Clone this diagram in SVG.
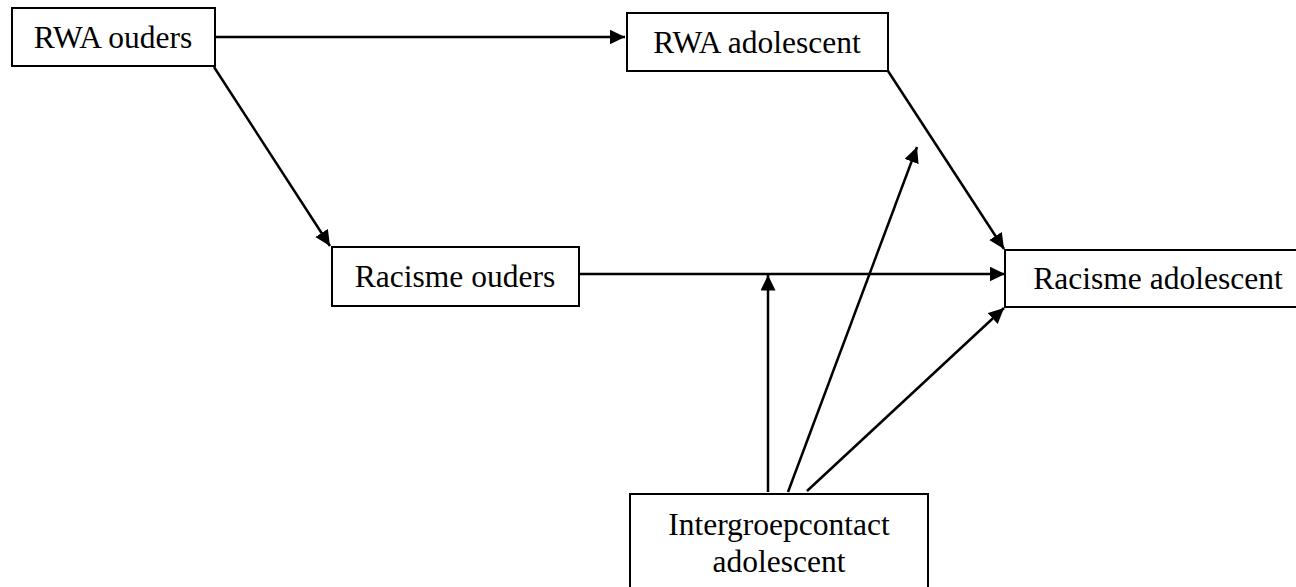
<svg xmlns="http://www.w3.org/2000/svg" width="1296" height="587" viewBox="0 0 1296 587">
<style>
.box{fill:#fff;stroke:#000;stroke-width:2}
.lbl{font-family:"Liberation Serif","Times New Roman",serif;font-size:31.5px;fill:#000;text-anchor:middle}
.con{fill:none;stroke:#000;stroke-width:2.5}
</style>
<defs>
<marker id="ah" markerUnits="userSpaceOnUse" markerWidth="17" markerHeight="16" refX="15.5" refY="7.5" orient="auto">
<path d="M0,0 L15.5,7.5 L0,15 Z" fill="#000"/>
</marker>
</defs>
<rect x="0" y="0" width="1296" height="587" fill="#fff"/>
<g id="connectors">
<line class="con" x1="214" y1="37" x2="625" y2="37" marker-end="url(#ah)"/>
<line class="con" x1="214" y1="67" x2="330" y2="246" marker-end="url(#ah)"/>
<line class="con" x1="579" y1="274" x2="1005" y2="274" marker-end="url(#ah)"/>
<line class="con" x1="888" y1="71" x2="1004" y2="249" marker-end="url(#ah)"/>
<line class="con" x1="768" y1="492" x2="768" y2="275" marker-end="url(#ah)"/>
<line class="con" x1="788" y1="492" x2="917" y2="147" marker-end="url(#ah)"/>
<line class="con" x1="807" y1="491" x2="1004" y2="308" marker-end="url(#ah)"/>
</g>
<g id="rwa-ouders">
<rect class="box" x="12" y="8" width="203" height="58"/>
<text class="lbl" x="113" y="48">RWA ouders</text>
</g>
<g id="rwa-adolescent">
<rect class="box" x="627" y="13" width="261" height="58"/>
<text class="lbl" x="757" y="53">RWA adolescent</text>
</g>
<g id="racisme-ouders">
<rect class="box" x="332" y="247" width="247" height="59"/>
<text class="lbl" x="455" y="287">Racisme ouders</text>
</g>
<g id="racisme-adolescent">
<rect class="box" x="1005" y="250" width="306" height="57"/>
<text class="lbl" x="1158" y="289">Racisme adolescent</text>
</g>
<g id="intergroepcontact-adolescent">
<rect class="box" x="630" y="494" width="298" height="110"/>
<text class="lbl" x="779" y="535">Intergroepcontact</text>
<text class="lbl" x="779" y="572">adolescent</text>
</g>
</svg>
